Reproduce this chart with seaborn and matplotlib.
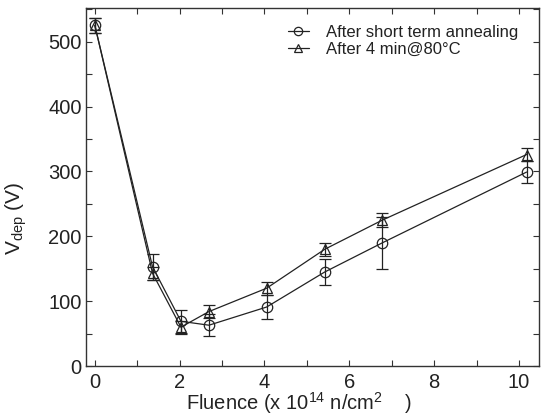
import matplotlib
matplotlib.use("Agg")
import matplotlib.pyplot as plt
import seaborn as sns
import pandas as pd
from matplotlib.ticker import MultipleLocator

# Data
fluence = [0.0, 1.36, 2.03, 2.69, 4.05, 5.42, 6.78, 10.18]
v_short = [525, 153, 69, 63, 91, 145, 190, 299]
err_short = [11, 20, 18, 17, 18, 20, 40, 17]
v_80c = [525, 143, 60, 84, 120, 180, 225, 326]
err_80c = [11, 10, 10, 10, 10, 10, 11, 10]
labels = ["After short term annealing", "After 4 min@80°C"]

sns.set_theme(style="ticks")
plt.rcParams['font.family'] = ['Liberation Sans', 'DejaVu Sans']
plt.rcParams['mathtext.fontset'] = 'custom'
plt.rcParams['mathtext.rm'] = 'Liberation Sans'

fig = plt.figure(figsize=(5.51, 4.16), dpi=100)
ax = fig.add_axes([0.156, 0.12, 0.822, 0.861])

df1 = pd.DataFrame({"x": fluence, "y": v_short})
df2 = pd.DataFrame({"x": fluence, "y": v_80c})

for df, err, mk, lab in [(df1, err_short, 'o', labels[0]), (df2, err_80c, '^', labels[1])]:
    ax.errorbar(df["x"], df["y"], yerr=err, fmt='none', ecolor='#222222',
                elinewidth=0.9, capsize=4, capthick=0.9, zorder=2)
    sns.lineplot(data=df, x="x", y="y", ax=ax, color='#222222', linewidth=0.9,
                 marker=mk, markersize=7.5, markerfacecolor='none',
                 markeredgecolor='#222222', markeredgewidth=0.9, label=lab,
                 zorder=3)

ax.set_xlim(-0.21, 10.47)
ax.set_ylim(0, 552)
ax.xaxis.set_major_locator(MultipleLocator(2))
ax.xaxis.set_minor_locator(MultipleLocator(1))
ax.yaxis.set_major_locator(MultipleLocator(100))
ax.yaxis.set_minor_locator(MultipleLocator(50))
ax.tick_params(which='both', direction='in', top=True, right=True,
               length=4, width=0.8, color='#333333', labelsize=14.5,
               labelcolor='#222222')
ax.tick_params(axis='x', pad=5)
ax.tick_params(axis='y', pad=3)
for s in ax.spines.values():
    s.set_linewidth(1.0)
    s.set_color('#333333')

ax.set_xlabel(r"Fluence (x 10$^{14}$ n/cm$^{2}$    )", fontsize=14.5, color='#222222')
ax.xaxis.set_label_coords(0.47, -0.068)
ax.set_ylabel(r"V$_{\rm dep}$ (V)", fontsize=15, color='#222222')
ax.yaxis.set_label_coords(-0.125, 0.413)

leg = ax.legend(loc='upper right', frameon=False, fontsize=12,
                handlelength=1.3, handletextpad=1.0, labelspacing=0.1,
                borderaxespad=0.3, bbox_to_anchor=(0.98, 0.985))
for h in leg.legend_handles:
    h.set_markersize(6)
for t in leg.get_texts():
    t.set_color('#222222')

fig.savefig("out.png", dpi=100)
